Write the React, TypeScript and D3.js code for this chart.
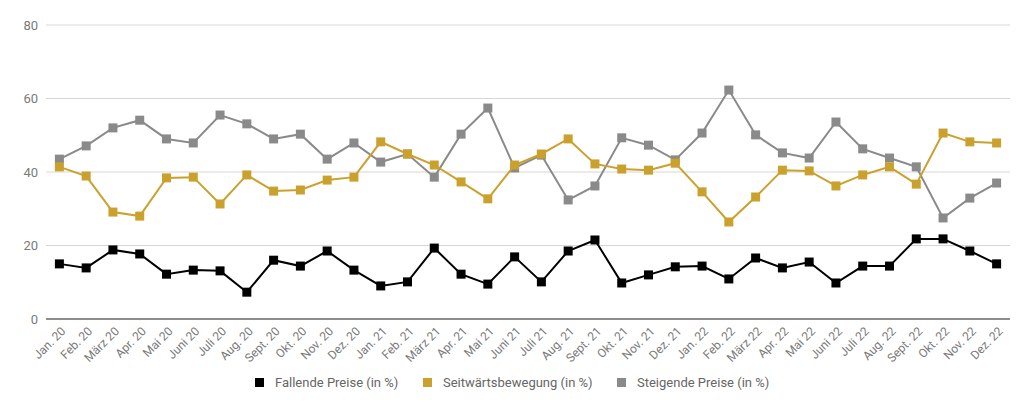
import React from "react";
import * as d3 from "d3";

const months = [
  "Jan. 20","Feb. 20","März 20","Apr. 20","Mai 20","Juni 20","Juli 20","Aug. 20","Sept. 20","Okt. 20","Nov. 20","Dez. 20",
  "Jan. 21","Feb. 21","März 21","Apr. 21","Mai 21","Juni 21","Juli 21","Aug. 21","Sept. 21","Okt. 21","Nov. 21","Dez. 21",
  "Jan. 22","Feb. 22","März 22","Apr. 22","Mai 22","Juni 22","Juli 22","Aug. 22","Sept. 22","Okt. 22","Nov. 22","Dez. 22",
];

const fallende = [
  15.0, 13.9, 18.8, 17.7, 12.2, 13.3, 13.1, 7.3, 16.0, 14.4, 18.5, 13.3,
  9.0, 10.1, 19.3, 12.2, 9.5, 16.9, 10.1, 18.5, 21.5, 9.8, 12.0, 14.2,
  14.4, 10.9, 16.6, 13.9, 15.5, 9.8, 14.4, 14.4, 21.8, 21.8, 18.5, 15.0,
];

const seitwaerts = [
  41.4, 38.9, 29.1, 28.0, 38.4, 38.6, 31.3, 39.2, 34.8, 35.1, 37.8, 38.6,
  48.2, 44.9, 41.9, 37.3, 32.7, 41.9, 44.9, 49.0, 42.2, 40.8, 40.5, 42.4,
  34.6, 26.4, 33.2, 40.5, 40.3, 36.2, 39.2, 41.4, 36.7, 50.6, 48.2, 47.9,
];

const steigende = [
  43.5, 47.1, 52.0, 54.1, 49.0, 47.9, 55.5, 53.1, 49.0, 50.3, 43.5, 47.9,
  42.7, 44.9, 38.6, 50.3, 57.4, 41.1, 44.6, 32.4, 36.2, 49.3, 47.3, 43.3,
  50.6, 62.3, 50.1, 45.2, 43.8, 53.6, 46.3, 43.8, 41.4, 27.5, 32.9, 37.0,
];

const yTicks = [0, 20, 40, 60, 80];

const seriesNames = ["Fallende Preise (in %)", "Seitwärtsbewegung (in %)", "Steigende Preise (in %)"];
const seriesColors = ["#000000", "#cba12e", "#8a8a8a"];
const seriesData = [fallende, seitwaerts, steigende];
// draw order: grey, gold, black on top
const drawOrder = [2, 1, 0];
const legendX = [255, 423, 617];

const W = 1024;
const H = 409;
const left = 46;
const right = 1010;
const top = 25;
const bottom = 319;

export default function App() {
  const x = d3.scaleBand<string>().domain(months).range([left, right]);
  const y = d3.scaleLinear().domain([0, 80]).range([bottom, top]);
  const cx = (m: string) => (x(m) as number) + x.bandwidth() / 2;
  const line = d3
    .line<number>()
    .x((_, i) => cx(months[i]))
    .y((d) => y(d));
  const font = "Roboto, 'Noto Sans', sans-serif";

  return (
    <svg
      width={W}
      height={H}
      style={{ position: "absolute", left: 0, top: 0, background: "#fff" }}
      fontFamily={font}
    >
      {yTicks.map((t) => (
        <g key={t}>
          <line
            x1={left}
            x2={right}
            y1={y(t)}
            y2={y(t)}
            stroke={t === 0 ? "#666" : "#d6d6d6"}
            strokeWidth={t === 0 ? 1.5 : 1}
          />
          <text x={38} y={y(t)} dy="0.35em" textAnchor="end" fontSize={13} fill="#7a7a7a">
            {t}
          </text>
        </g>
      ))}
      {drawOrder.map((si) => (
        <g key={si}>
          <path d={line(seriesData[si]) || ""} fill="none" stroke={seriesColors[si]} strokeWidth={2} />
          {seriesData[si].map((v, i) => (
            <rect
              key={i}
              x={cx(months[i]) - 4.5}
              y={y(v) - 4.5}
              width={9}
              height={9}
              fill={seriesColors[si]}
            />
          ))}
        </g>
      ))}
      {months.map((m) => (
        <text
          key={m}
          transform={`translate(${cx(m) + 4},${bottom + 10}) rotate(-45)`}
          textAnchor="end"
          dy="0.35em"
          fontSize={12}
          fill="#7a7a7a"
        >
          {m}
        </text>
      ))}
      {seriesNames.map((n, i) => (
        <g key={n}>
          <rect x={legendX[i]} y={378} width={9} height={9} fill={seriesColors[i]} />
          <text x={legendX[i] + 20} y={382.5} dy="0.35em" fontSize={13} fill="#666">
            {n}
          </text>
        </g>
      ))}
    </svg>
  );
}
